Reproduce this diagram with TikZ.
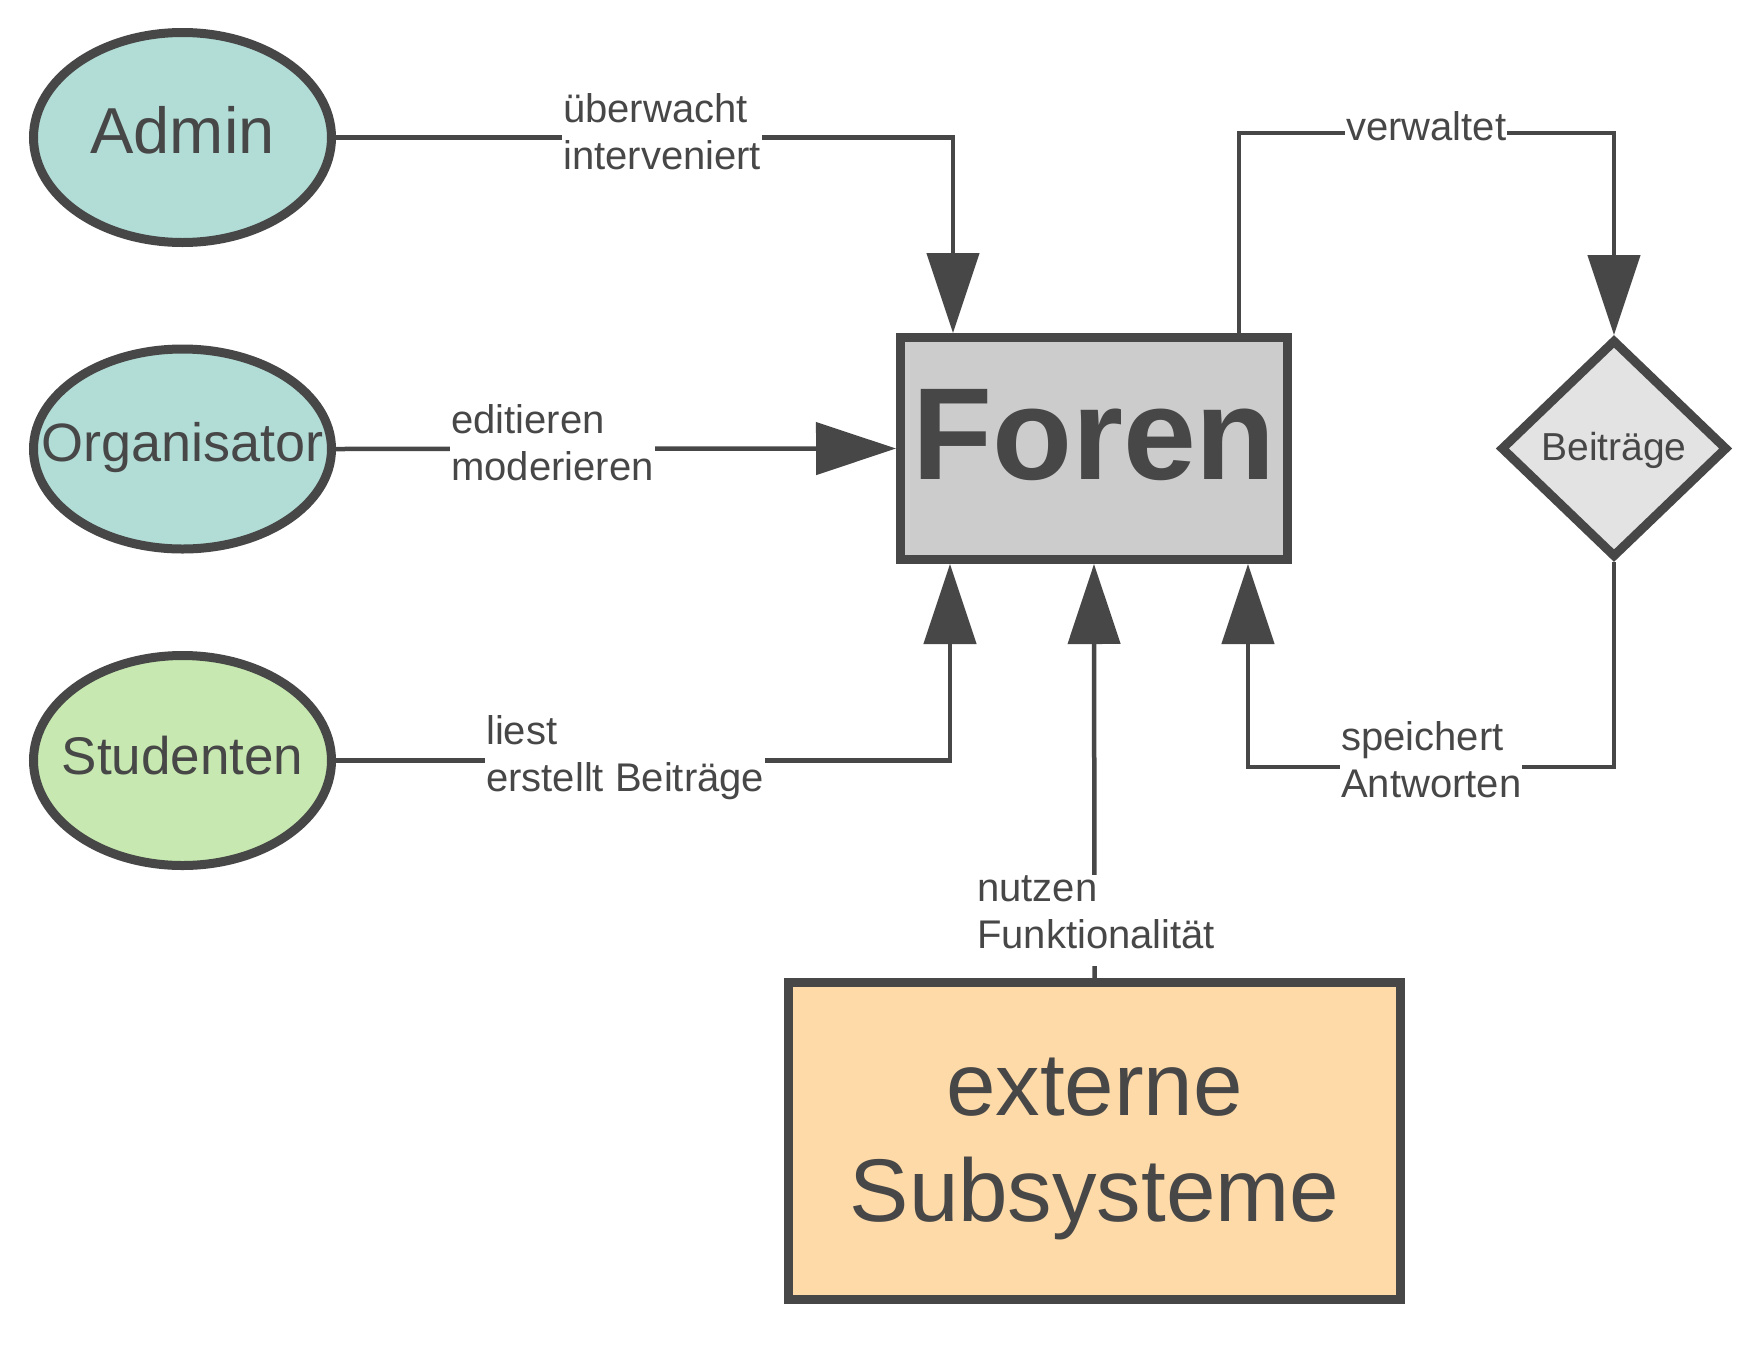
\documentclass[tikz,border=0pt]{standalone}
\usepackage{fontspec}
\setmainfont{Liberation Sans}
\usetikzlibrary{arrows.meta,shapes.geometric}
\definecolor{dark}{RGB}{71,71,71}
\definecolor{teal1}{RGB}{178,220,214}
\definecolor{green1}{RGB}{199,232,176}
\definecolor{peach}{RGB}{254,218,168}
\definecolor{gray1}{RGB}{204,204,204}
\definecolor{gray2}{RGB}{227,227,227}
\begin{document}
\begin{tikzpicture}[x=1pt,y=-1pt,
  shapebox/.style={draw=dark, line width=9pt, text=dark, inner sep=0pt},
  actor/.style={shapebox, ellipse, minimum width=298pt, inner xsep=-80pt},
  tx/.style 2 args={text height=#1pt, text depth=#2pt},
  conn/.style={draw=dark, line width=4.5pt, -{Triangle[length=80pt,width=52pt]}},
  lab/.style={fill=white, text=dark, inner xsep=1pt, inner ysep=0pt, align=left,
              anchor=west, font=\fontsize{40pt}{47pt}\selectfont}]
\fill[white] (0,0) rectangle (1760,1360);
\useasboundingbox (0,0) rectangle (1760,1360);

% shapes
\node[actor, fill=teal1, minimum height=210pt, tx={47.25}{16.25},
      font=\fontsize{65pt}{78pt}\selectfont] (admin) at (182.5,137.5) {Admin};
\node[actor, fill=teal1, minimum height=200pt, tx={38.65}{13.25},
      font=\fontsize{54pt}{65pt}\selectfont] (org) at (182.5,449) {Organisator};
\node[actor, fill=green1, minimum height=210pt, tx={40}{13},
      font=\fontsize{53pt}{64pt}\selectfont] (stud) at (182.5,760.5) {Studenten};
\node[shapebox, rectangle, fill=gray1, minimum width=387pt, minimum height=222pt,
      tx={93.5}{32.5}, font=\fontsize{131pt}{157pt}\selectfont\bfseries] (foren) at (1094,448.5) {Foren};
\node[shapebox, diamond, fill=gray2, minimum width=227pt, minimum height=218pt,
      tx={32.75}{9.75}, font=\fontsize{39pt}{47pt}\selectfont] (beitr) at (1614,448.5) {Beiträge};
\node[shapebox, rectangle, fill=peach, minimum width=612pt, minimum height=317pt,
      align=center, font=\fontsize{89pt}{106pt}\selectfont] (ext) at (1094.5,1141)
      {\rule{0pt}{72.5pt}externe\\Subsysteme};

% connectors
\draw[conn] (admin.east) -| ([xshift=57pt]foren.north west);
\draw[conn] (org.east) -- (foren.west);
\draw[conn] (stud.east) -| ([xshift=54pt]foren.south west);
\draw[conn] ([xshift=343pt]foren.north west) -- ++(0,-200) -| (beitr.north);
\draw[conn] (beitr.south) -- ++(0,205) -| ([xshift=352pt]foren.south west);
\draw[conn] (ext.north) -- (foren.south);

% labels
\node[lab] (l1) at (562,131.2) {überwacht\\interveniert};
\node[lab] (l2) at (450,442.7) {editieren\\moderieren};
\node[lab] (l3) at (485,757.9) {liest\\erstellt Beiträge};
\node[lab] (l4) at (1340,759.7) {speichert\\Antworten};
\node[lab] (l5) at (976,920.75) {nutzen\\Funktionalität\rule[-18pt]{0pt}{18pt}};
\node[lab] (l6) at (1345,126.4) {verwaltet};
\end{tikzpicture}
\end{document}
